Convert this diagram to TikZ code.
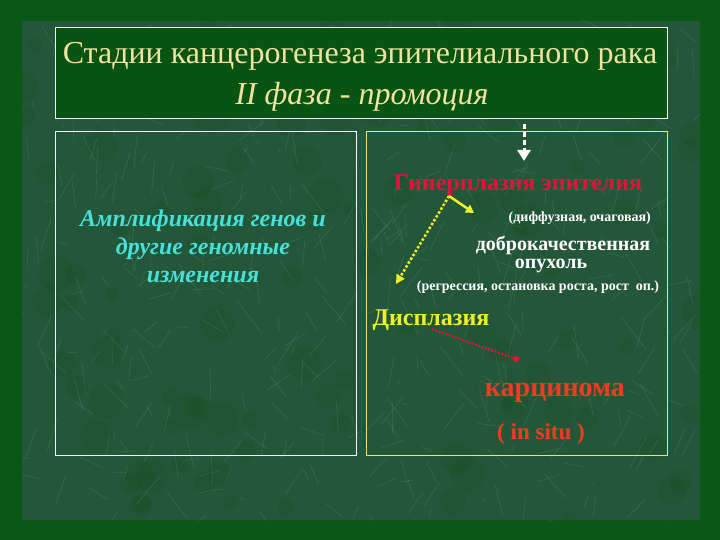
\documentclass[tikz,border=0pt]{standalone}
\usepackage{fontspec}
\setmainfont{Liberation Serif}
\usetikzlibrary{arrows.meta}
\definecolor{framegreen}{RGB}{10,88,22}
\definecolor{bggreen}{RGB}{36,86,58}
\definecolor{texlight}{RGB}{130,190,150}
\definecolor{titlegreen}{RGB}{8,84,18}
\definecolor{titletext}{RGB}{240,226,160}
\definecolor{cyantext}{RGB}{70,225,215}
\definecolor{hypred}{RGB}{225,20,60}
\definecolor{carcred}{RGB}{240,60,30}
\definecolor{dysyellow}{RGB}{240,240,40}
\definecolor{rightframe}{RGB}{230,230,120}
\tikzset{
  titlefont/.style={text=titletext, font=\fontsize{32}{36}\selectfont, inner sep=0pt},
  lefttext/.style={text=cyantext, font=\fontsize{24}{28}\selectfont\bfseries\itshape, align=center, inner sep=0pt},
  smallwhite/.style={text=white, font=\fontsize{14}{16}\selectfont\bfseries, inner sep=0pt},
  midwhite/.style={text=white, font=\fontsize{20}{22}\selectfont\bfseries, inner sep=0pt},
  boxline/.style={line width=0.8pt},
}
\begin{document}
\begin{tikzpicture}[x=1pt,y=-1pt]
\useasboundingbox (0,0) rectangle (720,540);
\fill[framegreen] (0,0) rectangle (720,540);
\fill[bggreen] (22,21) rectangle (700,520);
\begin{scope}
\clip (22,21) rectangle (700,520);
\pgfmathsetseed{7}
\foreach \i in {1,...,110}{
  \pgfmathsetmacro\xa{22+678*rnd}
  \pgfmathsetmacro\ya{21+499*rnd}
  \fill[black!70!green, opacity=0.1] (\xa,\ya) circle (6+12*rnd);
}
\foreach \i in {1,...,420}{
  \pgfmathsetmacro\xa{22+678*rnd}
  \pgfmathsetmacro\ya{21+499*rnd}
  \pgfmathsetmacro\dx{50*rnd-25}
  \pgfmathsetmacro\dy{70*rnd-35}
  \draw[texlight, opacity=0.2, line width=0.6pt] (\xa,\ya) -- ++(\dx,\dy);
}
\end{scope}
% title box
\draw[white, boxline, fill=titlegreen] (55,27) rectangle (667,118);
\node[titlefont] (t1) at (360,56) {Стадии канцерогенеза эпителиального рака};
\node[titlefont, font=\fontsize{32}{36}\selectfont\itshape] (t2) at (362,97) {II фаза - промоция};
% panels
\draw[white, boxline] (55,131) rectangle (356,455);
\draw[rightframe, boxline] (366,131) rectangle (667,455);
% left text
\node[lefttext] (amp) at (203,246) {Амплификация генов и\\другие геномные\\изменения};
% right panel
\node[text=hypred, font=\fontsize{24}{26}\selectfont\bfseries, inner sep=0pt] (hyp) at (518,185) {Гиперплазия эпителия};
\node[smallwhite, anchor=east] (diff) at (651,218) {(диффузная, очаговая)};
\node[midwhite] (ben1) at (563,245) {доброкачественная};
\node[midwhite] (ben2) at (551,266) {опухоль};
\node[smallwhite] (regr) at (538,287) {(регрессия, остановка роста, рост\ \ оп.)};
\node[text=dysyellow, font=\fontsize{24}{26}\selectfont\bfseries, inner sep=0pt] (dys) at (431,320) {Дисплазия};
\node[text=carcred, font=\fontsize{28}{30}\selectfont\bfseries, inner sep=0pt] (carc) at (555,393) {карцинома};
\node[text=carcred, font=\fontsize{23}{26}\selectfont\bfseries, inner sep=0pt] (situ) at (541,434) {( in situ )};
% connectors
\coordinate (arrtop) at (524,124);
\coordinate (arrbot) at (524,161);
\draw[white, line width=3pt, dash pattern=on 5pt off 3pt, -{Triangle[length=11pt,width=13pt,fill=white]}] (arrtop) -- (arrbot);
\coordinate (hs) at (449,196);
\coordinate (he) at (474,213);
\draw[dysyellow, line width=2.5pt, -{Triangle[length=8pt,width=9pt]}] (hs) -- (he);
\coordinate (dysend) at (396,284);
\draw[dysyellow, line width=2.5pt, dash pattern=on 2.5pt off 2pt, -{Triangle[length=9pt,width=9pt]}] (hs) -- (dysend);
\coordinate (rs) at (432,329);
\coordinate (re) at (519,360);
\draw[hypred, line width=2pt, dash pattern=on 2pt off 1.5pt, -{Circle[length=6pt]}] (rs) -- (re);
\end{tikzpicture}
\end{document}
